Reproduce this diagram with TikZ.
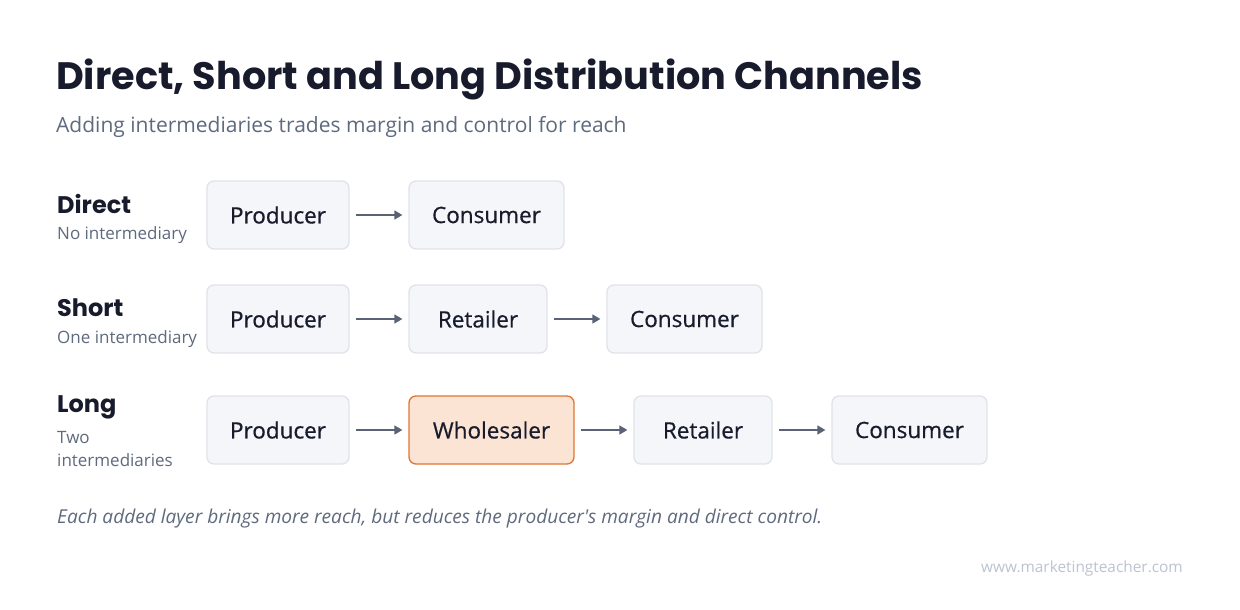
\documentclass[tikz,border=0pt]{standalone}
\usepackage{fontspec}
\setmainfont{Open Sans}
\newfontfamily\titlefont{Poppins}
\usetikzlibrary{arrows.meta,positioning}
\definecolor{ink}{HTML}{171B2C}
\definecolor{sub}{HTML}{5F6A7E}
\definecolor{boxfill}{HTML}{F5F6F9}
\definecolor{boxline}{HTML}{E1E3EA}
\definecolor{arrowc}{HTML}{5A6275}
\definecolor{orfill}{HTML}{FBE4D4}
\definecolor{orline}{HTML}{DF7634}
\definecolor{foot}{HTML}{BCC3D1}
\newfontfamily\boxfont{Open Sans}[FakeBold=0.6]
\begin{document}
\begin{tikzpicture}[x=1pt,y=-1pt,
  stepbox/.style={draw=boxline,fill=boxfill,line width=1.3pt,rounded corners=7pt,
    minimum height=68pt,inner sep=0pt,text=ink,font=\boxfont\fontsize{22.5}{26}\selectfont},
  hibox/.style={stepbox,draw=orline,fill=orfill},
  flow/.style={draw=arrowc,line width=1.6pt,-{Triangle[length=8pt,width=9pt]}},
  rowhead/.style={anchor=west,text=ink,font=\titlefont\bfseries\fontsize{24}{28}\selectfont,inner sep=0pt},
  rowsub/.style={anchor=west,text=sub,font=\fontsize{17}{23}\selectfont,inner sep=0pt,align=left}]
\useasboundingbox[fill=white] (0,0) rectangle (1240,610);
% title
\node[anchor=west,inner sep=0pt,text=ink,font=\titlefont\bfseries\fontsize{38.2}{42}\selectfont] (title) at (56,79.5) {Direct, Short and Long Distribution Channels};
\node[anchor=west,inner sep=0pt,text=sub,font=\fontsize{21}{25}\selectfont] (subtitle) at (56,127) {Adding intermediaries trades margin and control for reach};
% row labels
\node[rowhead] (h1) at (57,204) {Direct};
\node[rowsub] (s1) at (57,235) {No intermediary};
\node[rowhead] (h2) at (57,308) {Short};
\node[rowsub] (s2) at (57,339) {One intermediary};
\node[rowhead] (h3) at (57,407) {Long};
\node[rowsub,anchor=north west] (s3) at (57,431) {Two\\intermediaries};
% row 1
\node[stepbox,minimum width=142pt] (p1) at (278,215) {Producer};
\node[stepbox,minimum width=155pt] (c1) at (486.5,215) {Consumer};
% row 2
\node[stepbox,minimum width=142pt] (p2) at (278,319) {Producer};
\node[stepbox,minimum width=138pt] (r2) at (478,319) {Retailer};
\node[stepbox,minimum width=155pt] (c2) at (684.5,319) {Consumer};
% row 3
\node[stepbox,minimum width=142pt] (p3) at (278,430) {Producer};
\node[hibox,minimum width=165pt] (w3) at (491.5,430) {Wholesaler};
\node[stepbox,minimum width=138pt] (r3) at (703,430) {Retailer};
\node[stepbox,minimum width=155pt] (c3) at (909.5,430) {Consumer};
% arrows
\draw[flow] ([xshift=6pt]p1.east) -- ([xshift=-6pt]c1.west);
\draw[flow] ([xshift=6pt]p2.east) -- ([xshift=-6pt]r2.west);
\draw[flow] ([xshift=6pt]r2.east) -- ([xshift=-6pt]c2.west);
\draw[flow] ([xshift=6pt]p3.east) -- ([xshift=-6pt]w3.west);
\draw[flow] ([xshift=6pt]w3.east) -- ([xshift=-6pt]r3.west);
\draw[flow] ([xshift=6pt]r3.east) -- ([xshift=-6pt]c3.west);
% footnote
\node[anchor=west,inner sep=0pt,text=sub,font=\itshape\fontsize{19.1}{22}\selectfont] (note) at (57,519) {Each added layer brings more reach, but reduces the producer\textquotesingle s margin and direct control.};
\node[anchor=east,inner sep=0pt,text=foot,font=\fontsize{15.4}{18}\selectfont] (url) at (1183,568) {www.marketingteacher.com};
\end{tikzpicture}
\end{document}
